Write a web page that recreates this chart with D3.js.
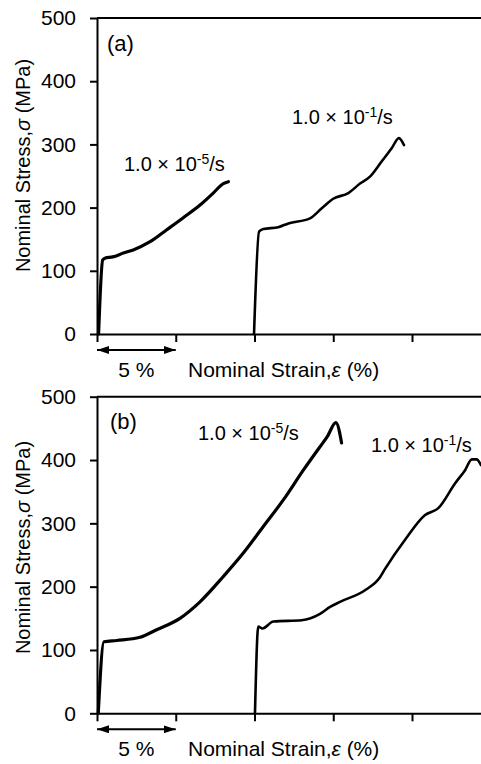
<!DOCTYPE html>
<html>
<head>
<meta charset="utf-8">
<script src="https://cdn.jsdelivr.net/npm/d3@7"></script>
<style>
  html, body { margin: 0; padding: 0; background: #fff; }
  svg { display: block; }
  text { font-family: 'Liberation Sans', Arial, sans-serif; fill: #000; }
</style>
</head>
<body>
<svg id="chart" width="481" height="764"></svg>
<script>
// ---- data (strain %, stress MPa) ----
const yTicks = [0, 100, 200, 300, 400, 500];
const xTicks = [0, 5, 10, 15, 20, 25];
const panelLabels = ["(a)", "(b)"];
const rateLabels = ["1.0 \u00d7 10", "-5", "/s", "-1"];

// panel (a) 1.0e-5 /s
const strainA1 = [0.1, 0.36, 0.5, 1.0, 1.67, 2.3, 3.37, 4.43, 5.48, 6.54, 7.38, 8.02, 8.34];
const stressA1 = [0, 117, 120, 122, 128, 133, 146, 165, 184, 204, 223, 238, 241];
// panel (a) 1.0e-1 /s
const strainA2 = [9.97, 10.29, 10.56, 11.51, 12.15, 13.52, 14.27, 15.0, 15.96, 16.7, 17.33, 18.07, 18.71, 19.17, 19.49];
const stressA2 = [0, 162, 166, 169, 175, 183, 199, 214, 223, 238, 249, 273, 294, 310, 299];
// panel (b) 1.0e-5 /s
const strainB1 = [0.08, 0.44, 1.25, 2.73, 3.79, 5.27, 6.54, 8.02, 9.29, 10.56, 11.83, 13.1, 14.16, 14.6, 15.17, 15.53];
const stressB1 = [0, 113, 115, 120, 132, 150, 176, 216, 253, 295, 337, 384, 421, 436, 459, 427];
// panel (b) 1.0e-1 /s
const strainB2 = [10.03, 10.24, 10.5, 11.2, 13.0, 14.16, 14.8, 15.43, 17.06, 17.97, 18.29, 19.56, 20.83, 21.67, 22.73, 23.37, 23.8, 24.1, 24.38];
const stressB2 = [0, 137, 134, 145, 147, 157, 168, 176, 195, 215, 228, 274, 313, 324, 363, 384, 401, 401, 392];

const zip = (xs, ys) => xs.map((v, i) => [v, ys[i]]);

const svg = d3.select("#chart");
const FS = 21;

const panels = [
  { top: 18, bottom: 334, label: panelLabels[0], labelPos: [107, 51], yTitleOff: -10.5,
    series: [ {d: zip(strainA1, stressA1), w: 3.2}, {d: zip(strainA2, stressA2), w: 2.6} ],
    rates: [ {x: 124, y: 171, exp: rateLabels[1]}, {x: 292, y: 124, exp: rateLabels[3]} ] },
  { top: 396.7, bottom: 713.3, label: panelLabels[1], labelPos: [110, 429], yTitleOff: -7.5,
    series: [ {d: zip(strainB1, stressB1), w: 3.2}, {d: zip(strainB2, stressB2), w: 2.6} ],
    rates: [ {x: 198, y: 440, exp: rateLabels[1]}, {x: 371, y: 452, exp: rateLabels[3]} ] }
];

const x = d3.scaleLinear().domain([0, 25]).range([97, 97 + 25 * 15.75]);

panels.forEach(p => {
  const y = d3.scaleLinear().domain([0, 500]).range([p.bottom, p.top]);
  const g = svg.append("g");

  // top border
  g.append("line").attr("x1", x(0)).attr("x2", 481).attr("y1", y(500)).attr("y2", y(500))
    .attr("stroke", "#000").attr("stroke-width", 2);

  const ya = g.append("g").attr("transform", `translate(${x(0)},0)`)
    .call(d3.axisLeft(y).tickValues(yTicks).tickSize(7).tickSizeOuter(0).tickPadding(14));
  ya.selectAll("text").style("font-size", FS + "px").style("font-family", "'Liberation Sans', Arial, sans-serif");

  const xa = g.append("g").attr("transform", `translate(0,${y(0)})`)
    .call(d3.axisBottom(x).tickValues(xTicks).tickSize(8).tickSizeOuter(0).tickFormat(""));

  [ya, xa].forEach(a => {
    a.select(".domain").attr("stroke-width", 2);
    a.selectAll(".tick line").attr("stroke-width", 2);
  });

  // curves
  const line = d3.line().x(d => x(d[0])).y(d => y(d[1])).curve(d3.curveMonotoneX);
  p.series.forEach(s => {
    g.append("path").attr("d", line(s.d)).attr("fill", "none").attr("stroke", "#000")
      .attr("stroke-width", s.w).attr("stroke-linejoin", "round").attr("stroke-linecap", "round");
  });

  // panel label
  g.append("text").attr("x", p.labelPos[0]).attr("y", p.labelPos[1])
    .style("font-size", "22px").text(p.label);

  // rate labels
  p.rates.forEach(r => {
    const t = g.append("text").attr("x", r.x).attr("y", r.y).style("font-size", "20px");
    t.append("tspan").text(rateLabels[0]);
    t.append("tspan").attr("dy", -7).style("font-size", "14px").text(r.exp);
    t.append("tspan").attr("dy", 7).text(rateLabels[2]);
  });

  // y axis title
  const yt = g.append("text")
    .attr("transform", `translate(23,${(p.top + p.bottom) / 2 + p.yTitleOff}) rotate(-90)`)
    .attr("text-anchor", "middle").attr("dominant-baseline", "central")
    .style("font-size", "20px");
  yt.append("tspan").text("Nominal Stress,");
  yt.append("tspan").style("font-style", "italic").text("\u03c3");
  yt.append("tspan").text(" (MPa)");

  // 5% arrow
  const ay = y(0) + 16;
  const defsId = "ah" + Math.round(p.top);
  const defs = g.append("defs");
  defs.append("marker").attr("id", defsId).attr("viewBox", "0 0 12 8").attr("refX", 12).attr("refY", 4)
    .attr("markerWidth", 12).attr("markerHeight", 8).attr("markerUnits", "userSpaceOnUse")
    .attr("orient", "auto-start-reverse")
    .append("path").attr("d", "M0,0 L12,4 L0,8 Z").attr("fill", "#000");
  g.append("line").attr("x1", x(0)).attr("x2", x(5)).attr("y1", ay).attr("y2", ay)
    .attr("stroke", "#000").attr("stroke-width", 2)
    .attr("marker-start", `url(#${defsId})`).attr("marker-end", `url(#${defsId})`);

  g.append("text").attr("x", (x(0) + x(5)) / 2).attr("y", y(0) + 43).attr("text-anchor", "middle")
    .style("font-size", FS + "px").text("5 %");

  const xt = g.append("text").attr("x", 188).attr("y", y(0) + 43).style("font-size", FS + "px");
  xt.append("tspan").text("Nominal Strain,");
  xt.append("tspan").style("font-style", "italic").text("\u03b5");
  xt.append("tspan").text(" (%)");
});
</script>
</body>
</html>
